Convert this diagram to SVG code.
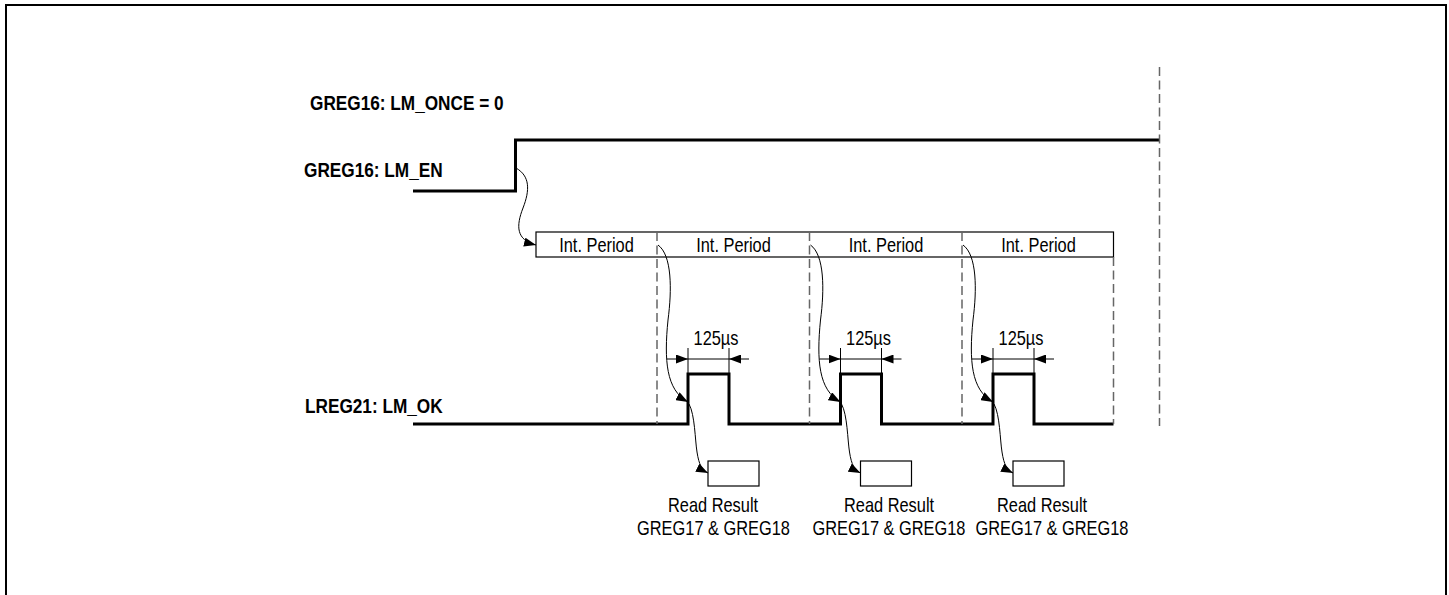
<svg xmlns="http://www.w3.org/2000/svg" width="1449" height="595" viewBox="0 0 1449 595">
<style>
.lbl{font-family:"Liberation Sans",Arial,sans-serif;font-size:21px;font-weight:bold;fill:#000}
.t{font-family:"Liberation Sans",Arial,sans-serif;font-size:20px;fill:#000;text-anchor:middle}
.sig{fill:none;stroke:#000;stroke-width:3}
.dash{fill:none;stroke:#666;stroke-width:1.5;stroke-dasharray:9,4.5}
.thin{fill:none;stroke:#000;stroke-width:1}
.box{fill:#fff;stroke:#000;stroke-width:1.2}
</style>
<defs>
<marker id="ah" viewBox="0 0 12 9" refX="12" refY="4.5" markerWidth="12" markerHeight="9" markerUnits="userSpaceOnUse" orient="auto">
<path d="M0,0 L12,4.5 L0,9 Z" fill="#000"/>
</marker>
</defs>
<rect x="6" y="5" width="1440" height="600" fill="#fff" stroke="#000" stroke-width="2"/>

<g id="sig-lm-once">
<text class="lbl" transform="translate(310,110) scale(0.82,1)">GREG16: LM_ONCE = 0</text>
</g>
<g id="sig-lm-en">
<text class="lbl" transform="translate(304,177) scale(0.82,1)">GREG16: LM_EN</text>
<polyline class="sig" points="413,191 515.5,191 515.5,140 1160,140"/>
</g>
<g id="sig-lm-ok">
<text class="lbl" transform="translate(305,413) scale(0.82,1)">LREG21: LM_OK</text>
<polyline class="sig" points="413,424 688,424 688,374 729,374 729,424 840.5,424 840.5,374 881.5,374 881.5,424 993,424 993,374 1034,374 1034,424 1113.5,424"/>
</g>

<g id="int-periods">
<rect class="box" x="536" y="232" width="577.5" height="25" fill="none"/>
<text class="t" transform="translate(596.5,252) scale(0.82,1)">Int. Period</text>
<text class="t" transform="translate(733.5,252) scale(0.82,1)">Int. Period</text>
<text class="t" transform="translate(886,252) scale(0.82,1)">Int. Period</text>
<text class="t" transform="translate(1038.5,252) scale(0.82,1)">Int. Period</text>
</g>

<g id="guides">
<line class="dash" x1="657" y1="232" x2="657" y2="424"/>
<line class="dash" x1="809.5" y1="232" x2="809.5" y2="424"/>
<line class="dash" x1="962" y1="232" x2="962" y2="424"/>
<line class="dash" x1="1113.5" y1="257" x2="1113.5" y2="424"/>
<line class="dash" x1="1159.5" y1="67" x2="1159.5" y2="426"/>
</g>

<g id="period-1">
<text class="t" transform="translate(716,345) scale(0.82,1)">125µs</text>
<line class="thin" x1="688" y1="348" x2="688" y2="374"/>
<line class="thin" x1="729" y1="348" x2="729" y2="374"/>
<line class="thin" x1="688" y1="359" x2="729" y2="359"/>
<line class="thin" x1="667" y1="359" x2="688" y2="359" marker-end="url(#ah)"/>
<line class="thin" x1="749" y1="359" x2="729" y2="359" marker-end="url(#ah)"/>
<rect class="box" x="708" y="461" width="51" height="25"/>
<text class="t" transform="translate(713,512) scale(0.82,1)">Read Result</text>
<text class="t" transform="translate(713.5,535) scale(0.82,1)">GREG17 &amp; GREG18</text>
</g>
<g id="period-2">
<g transform="translate(152.5,0)">
<text class="t" transform="translate(716,345) scale(0.82,1)">125µs</text>
<line class="thin" x1="688" y1="348" x2="688" y2="374"/>
<line class="thin" x1="729" y1="348" x2="729" y2="374"/>
<line class="thin" x1="688" y1="359" x2="729" y2="359"/>
<line class="thin" x1="667" y1="359" x2="688" y2="359" marker-end="url(#ah)"/>
<line class="thin" x1="749" y1="359" x2="729" y2="359" marker-end="url(#ah)"/>
<rect class="box" x="708" y="461" width="51" height="25"/>
</g>
<text class="t" transform="translate(889,512) scale(0.82,1)">Read Result</text>
<text class="t" transform="translate(889,535) scale(0.82,1)">GREG17 &amp; GREG18</text>
</g>
<g id="period-3">
<g transform="translate(305,0)">
<text class="t" transform="translate(716,345) scale(0.82,1)">125µs</text>
<line class="thin" x1="688" y1="348" x2="688" y2="374"/>
<line class="thin" x1="729" y1="348" x2="729" y2="374"/>
<line class="thin" x1="688" y1="359" x2="729" y2="359"/>
<line class="thin" x1="667" y1="359" x2="688" y2="359" marker-end="url(#ah)"/>
<line class="thin" x1="749" y1="359" x2="729" y2="359" marker-end="url(#ah)"/>
<rect class="box" x="708" y="461" width="51" height="25"/>
</g>
<text class="t" transform="translate(1042,512) scale(0.82,1)">Read Result</text>
<text class="t" transform="translate(1052,535) scale(0.82,1)">GREG17 &amp; GREG18</text>
</g>

<g id="connectors">
<path class="thin" d="M516,168 C530,176 530,190 523,208 C516,226 516,240 536,245" marker-end="url(#ah)"/>
<path class="thin" d="M658,245 C672,255 672,290 668,320 C664,360 666,390 688,402" marker-end="url(#ah)"/>
<path class="thin" d="M689,404 C695,415 695,440 697,452 C699,465 702,470 708,473" marker-end="url(#ah)"/>
<g transform="translate(152.5,0)">
<path class="thin" d="M658,245 C672,255 672,290 668,320 C664,360 666,390 688,402" marker-end="url(#ah)"/>
<path class="thin" d="M689,404 C695,415 695,440 697,452 C699,465 702,470 708,473" marker-end="url(#ah)"/>
</g>
<g transform="translate(305,0)">
<path class="thin" d="M658,245 C672,255 672,290 668,320 C664,360 666,390 688,402" marker-end="url(#ah)"/>
<path class="thin" d="M689,404 C695,415 695,440 697,452 C699,465 702,470 708,473" marker-end="url(#ah)"/>
</g>
</g>
</svg>
